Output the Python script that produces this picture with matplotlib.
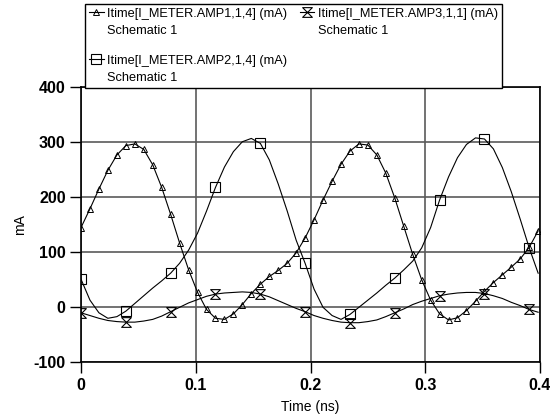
import numpy as np
import matplotlib.pyplot as plt
from matplotlib.path import Path

plt.rcParams['font.family'] = ['Liberation Sans', 'DejaVu Sans']

# sample times (ns)
time_ns = [0.0, 0.0078, 0.0156, 0.0234, 0.0313, 0.0391, 0.0469, 0.0547, 0.0625, 0.0703,
           0.0781, 0.0859, 0.0938, 0.1016, 0.1094, 0.1172, 0.125, 0.1328, 0.1406, 0.1484,
           0.1563, 0.1641, 0.1719, 0.1797, 0.1875, 0.1953, 0.2031, 0.2109, 0.2188, 0.2266,
           0.2344, 0.2422, 0.25, 0.2578, 0.2656, 0.2734, 0.2813, 0.2891, 0.2969, 0.3047,
           0.3125, 0.3203, 0.3281, 0.3359, 0.3438, 0.3516, 0.3594, 0.3672, 0.375, 0.3828,
           0.3906, 0.3984]

amp1_ma = [145, 179, 215, 249, 277, 294, 297, 287, 259, 218,
           169, 117, 68, 27, -4, -20, -22, -12, 5, 25,
           42, 56, 67, 80, 99, 126, 159, 195, 229, 260,
           284, 297, 295, 277, 244, 199, 147, 96, 50, 13,
           -12, -23, -19, -6, 11, 29, 45, 59, 73, 88,
           109, 139]

amp2_ma = [51, 13, -10, -20, -17, -7, 7, 21, 35, 48,
           62, 80, 104, 135, 175, 218, 255, 283, 301, 307,
           298, 268, 224, 175, 122, 80, 33, 0, -15, -22,
           -13, 0, 13, 26, 40, 53, 68, 84, 108, 145,
           195, 237, 272, 296, 308, 306, 288, 254, 210, 160,
           108, 62]

amp3_ma = [-10, -15, -20, -24, -26, -27, -27, -25, -22, -16,
           -8, 0, 8, 14, 20, 24, 26, 27, 28, 27,
           24, 19, 12, 5, -2, -8, -15, -20, -24, -27,
           -28, -28, -26, -23, -17, -10, -3, 5, 11, 16,
           21, 24, 26, 27, 27, 25, 21, 16, 9, 3,
           -4, -9]

series_labels = ['Itime[I_METER.AMP1,1,4] (mA)\nSchematic 1',
                 'Itime[I_METER.AMP2,1,4] (mA)\nSchematic 1',
                 'Itime[I_METER.AMP3,1,1] (mA)\nSchematic 1']

x_ticks = [0, 0.1, 0.2, 0.3, 0.4]
x_tick_labels = ['0', '0.1', '0.2', '0.3', '0.4']
y_ticks = [-100, 0, 100, 200, 300, 400]
y_tick_labels = ['-100', '0', '100', '200', '300', '400']

# hourglass marker used for AMP3
hourglass = Path([(-1, 1), (1, 1), (-1, -1), (1, -1), (-1, 1)],
                 [Path.MOVETO, Path.LINETO, Path.LINETO, Path.LINETO, Path.CLOSEPOLY])

fig = plt.figure(figsize=(5.5, 4.17), dpi=100)
ax = fig.add_axes([0.1473, 0.1312, 0.8345, 0.6595])

l1, = ax.plot(time_ns, amp1_ma, color='black', lw=0.8, marker='^', ms=4,
              mfc='none', mec='black', mew=0.7)
l2, = ax.plot(time_ns, amp2_ma, color='black', lw=0.8, marker='s', ms=6.5,
              mfc='none', mec='black', mew=0.8, markevery=5)
l3, = ax.plot(time_ns, amp3_ma, color='black', lw=0.8, marker=hourglass, ms=7,
              mfc='none', mec='black', mew=0.8, markevery=5)

ax.set_xlim(0, 0.4)
ax.set_ylim(-100, 400)
ax.set_xticks(x_ticks)
ax.set_xticklabels(x_tick_labels, fontweight='bold', fontsize=11.5)
ax.set_yticks(y_ticks)
ax.set_yticklabels(y_tick_labels, fontweight='bold', fontsize=11.5)
ax.tick_params(direction='out', length=8, width=1, pad=3, color='black')
ax.grid(True, color='#5a5a5a', lw=1.2)
ax.set_axisbelow(True)
for sp in ax.spines.values():
    sp.set_linewidth(1.2)
    sp.set_color('black')

ax.set_xlabel('Time (ns)', fontsize=10, labelpad=5)
ax.set_ylabel('mA', fontsize=10, labelpad=5)

# legend box spans x 85..502 px, bottom sits on the axes top
leg = fig.legend([l1, l2, l3], series_labels, ncol=2, loc='lower left',
                 bbox_to_anchor=(85 / 550, (417 - 87.5) / 417, 417 / 550, 0.2),
                 mode='expand', borderaxespad=0, fontsize=9.2, fancybox=False,
                 framealpha=1, edgecolor='black', handlelength=1.15,
                 handletextpad=0.3, labelspacing=1.4, borderpad=0.3,
                 columnspacing=0.3)
leg.get_frame().set_linewidth(1.0)
for txt in leg.get_texts():
    txt.set_linespacing(1.55)
# put the marker next to the first line of each label
for col in leg._legend_handle_box.get_children():
    for row in col.get_children():
        row.align = 'top'

fig.savefig('out.png', dpi=100)
